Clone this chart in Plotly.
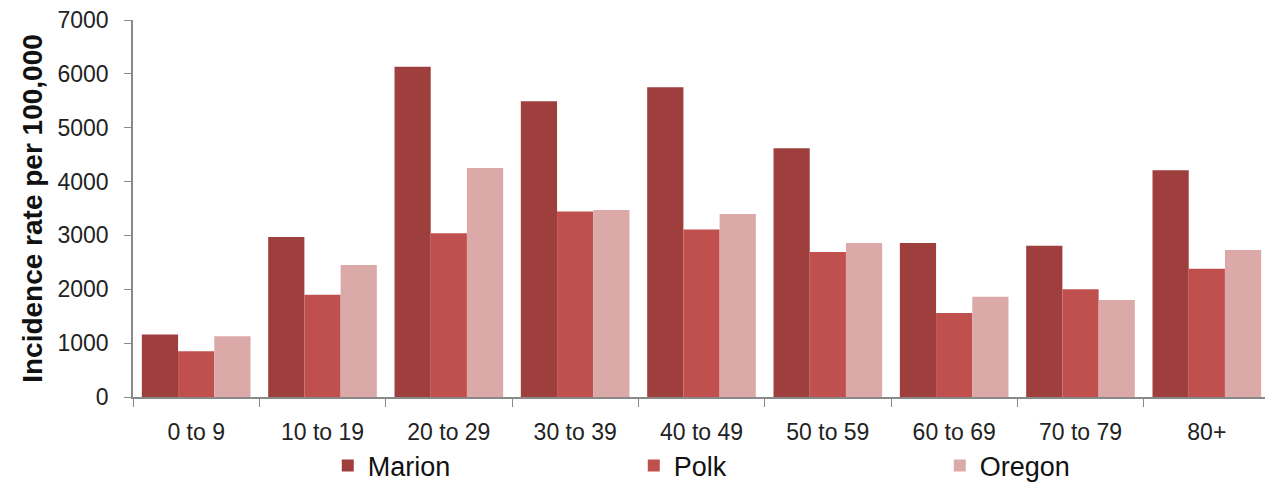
import plotly.graph_objects as go

categories = ["0 to 9", "10 to 19", "20 to 29", "30 to 39", "40 to 49", "50 to 59", "60 to 69", "70 to 79", "80+"]
marion = [1160, 2970, 6130, 5490, 5750, 4620, 2860, 2810, 4210]
polk = [850, 1900, 3040, 3445, 3110, 2690, 1560, 2000, 2380]
oregon = [1130, 2450, 4250, 3470, 3400, 2860, 1860, 1800, 2730]

series = [("Marion", marion, "#9E3F3D"), ("Polk", polk, "#C0504D"), ("Oregon", oregon, "#DBA9A8")]

fig = go.Figure()
for name, vals, col in series:
    fig.add_trace(go.Bar(x=categories, y=vals, name=name, marker=dict(color=col, line=dict(width=0))))

font = "Liberation Sans, Arial, sans-serif"
# page body has an 8px margin; figure sized/offset to compensate
fig.update_layout(
    width=1265, height=477,
    barmode="group", bargap=0.14, bargroupgap=0,
    paper_bgcolor="white", plot_bgcolor="white",
    margin=dict(l=125, r=3, t=12, b=88, autoexpand=False),
    font=dict(family=font, size=23, color="#222"),
    showlegend=True,
    legend=dict(orientation="h", x=0.575, xanchor="center", xref="paper",
                y=0.04, yanchor="middle", yref="container",
                font=dict(size=27, color="#111"), entrywidth=261, entrywidthmode="pixels",
                itemwidth=30, tracegroupgap=0),
    xaxis=dict(showline=True, linecolor="#898989", linewidth=1.5, ticks="outside", ticklen=8,
               tickcolor="#898989", tickson="boundaries", tickfont=dict(size=23, color="#222"),
               showgrid=False, automargin=False, ticklabelstandoff=14),
    yaxis=dict(range=[0, 7000], dtick=1000, showline=True, linecolor="#898989", linewidth=1.5,
               ticks="outside", ticklen=7, tickcolor="#898989", showgrid=False,
               tickfont=dict(size=23, color="#222"), automargin=False, ticklabelstandoff=11,
               ticklabeloverflow="allow",
               title=dict(text="<b>Incidence rate per 100,000</b>", font=dict(size=28, color="#111"), standoff=7)),
)
fig.write_html("out.html")
